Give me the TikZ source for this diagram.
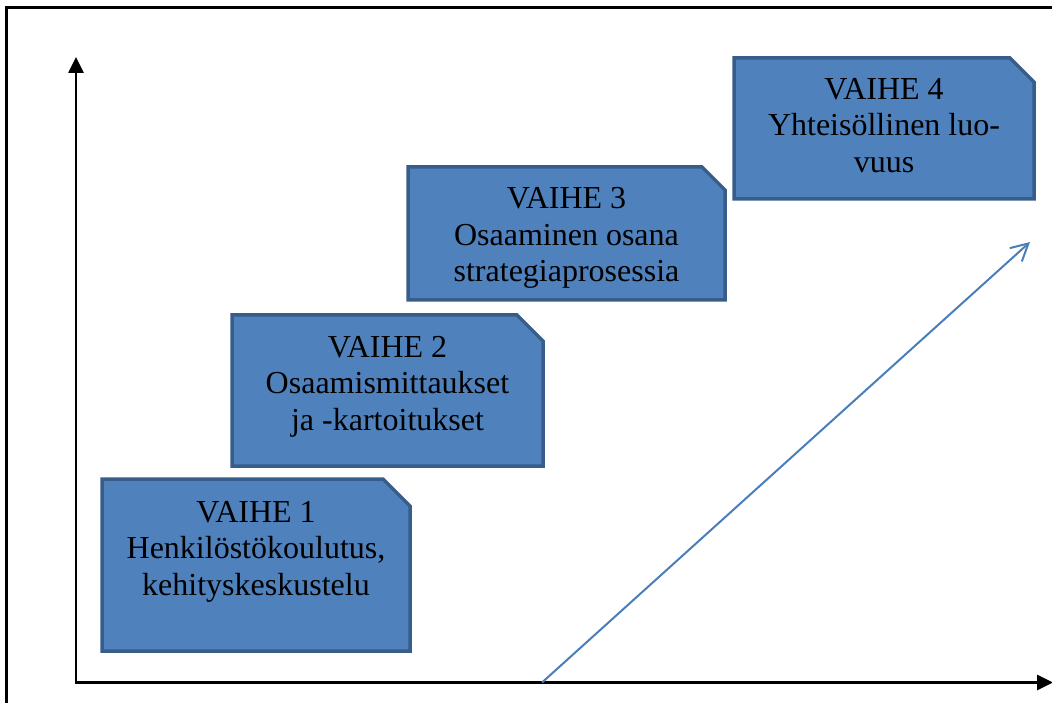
\documentclass[tikz,border=0pt]{standalone}
\usepackage{fontspec}
\setmainfont{Liberation Serif}
\usetikzlibrary{arrows.meta}
\definecolor{boxfill}{HTML}{4F81BD}
\definecolor{boxline}{HTML}{385D8A}
\definecolor{arrowblue}{HTML}{4A7EBB}
\tikzset{
  phasebox/.style={draw=boxline, fill=boxfill, line width=3.5pt, line join=miter},
  phasetext/.style={anchor=base, align=center, inner sep=0pt,
    font=\fontsize{32}{36.5}\selectfont},
  axisline/.style={line width=2.6pt, -{Triangle[length=16pt,width=15pt]}},
  growth/.style={draw=arrowblue, line width=2pt, -{Straight Barb[length=17pt,width=18pt,line width=2pt]}},
  frameline/.style={line width=3pt}
}
\begin{document}
\begin{tikzpicture}[x=1pt,y=-1pt]
\useasboundingbox (0,0) rectangle (1052,703);
% frame
\coordinate (f1) at (6.7,710);
\coordinate (f2) at (6.7,7.3);
\coordinate (f3) at (1060,7.3);
\draw[frameline] (f1) -- (f2) -- (f3);
% axes
\coordinate (O) at (76,682.5);
\coordinate (Y) at (76,57);
\coordinate (X) at (1053,682.5);
\coordinate (O2) at (74.7,682.5);
\draw[axisline] (O) -- (Y);
\draw[axisline] (O2) -- (X);
% growth arrow
\coordinate (gs) at (542,682.5);
\coordinate (ge) at (1030,242);
\draw[growth] (gs) -- (ge);
% boxes
\draw[phasebox] (102,479) -- (383,479) -- (410,506) -- (410,651) -- (102,651) -- cycle;
\draw[phasebox] (232,315) -- (517,315) -- (543,341) -- (543,466) -- (232,466) -- cycle;
\draw[phasebox] (408,167) -- (702,167) -- (725,190) -- (725,300) -- (408,300) -- cycle;
\draw[phasebox] (734,58) -- (1010,58) -- (1034,82) -- (1034,199) -- (734,199) -- cycle;
% texts (anchor base = baseline of the last line)
\node[phasetext] (t1) at (256,595) {VAIHE 1\\Henkilöstökoulutus,\\kehityskeskustelu};
\node[phasetext] (t2) at (387.5,430) {VAIHE 2\\Osaamismittaukset\\ja -kartoitukset};
\node[phasetext] (t3) at (566.5,282) {VAIHE 3\\Osaaminen osana\\strategiaprosessia};
\node[phasetext] (t4) at (884,172.5) {VAIHE 4\\Yhteisöllinen luo-\\vuus};
\end{tikzpicture}
\end{document}
